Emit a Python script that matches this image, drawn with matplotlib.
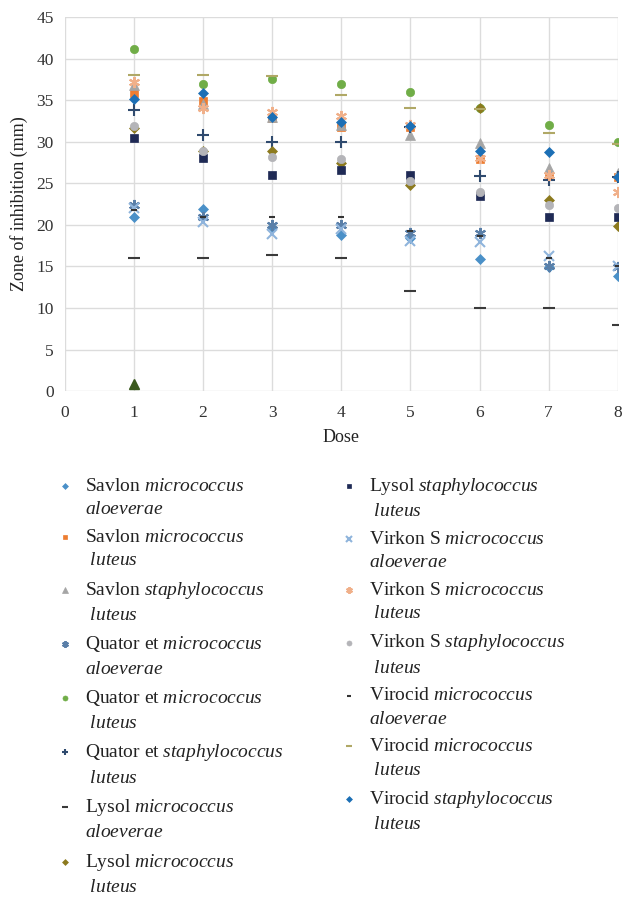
import matplotlib
matplotlib.use('Agg')
import matplotlib.pyplot as plt
from matplotlib.legend_handler import HandlerLine2D

plt.rcParams['font.family'] = ['Liberation Serif', 'DejaVu Serif']
plt.rcParams['mathtext.fontset'] = 'custom'
plt.rcParams['mathtext.it'] = 'Liberation Serif:italic'
plt.rcParams['mathtext.rm'] = 'Liberation Serif'

doses = [1, 2, 3, 4, 5, 6, 7, 8]

savlon_ma = [21.0, 21.9, 19.8, 18.8, 18.4, 15.9, 14.9, 13.8]
savlon_ml = [35.9, 34.9, 32.9, 31.8, 31.8, 27.9, 25.9, 25.8]
savlon_sl = [36.8, 34.5, 33.0, 32.0, 30.8, 29.9, 26.9, 26.2]
quator_ma = [22.4, 21.0, 20.0, 20.0, 19.0, 19.0, 15.0, 14.9]
quator_ml = [41.1, 37.0, 37.5, 37.0, 36.0, 34.0, 32.0, 30.0]
quator_sl = [33.8, 30.8, 30.0, 30.0, 31.8, 25.9, 25.4, 25.8]
lysol_ma = [16.0, 16.0, 16.4, 16.0, 12.0, 10.0, 10.0, 8.0]
lysol_ml = [31.6, 28.9, 28.9, 27.4, 24.8, 34.0, 23.0, 19.9]
lysol_sl = [30.5, 28.0, 26.0, 26.6, 26.0, 23.5, 21.0, 21.0]
virkon_ma = [22.0, 20.3, 18.9, 19.5, 18.0, 17.9, 16.3, 15.0]
virkon_ml = [37.2, 34.0, 33.6, 33.1, 32.0, 28.0, 26.0, 24.0]
virkon_sl = [31.9, 28.9, 28.2, 27.9, 25.3, 24.0, 22.4, 22.0]
virocid_ma = [21.8, 21.0, 21.0, 21.0, 19.2, 18.6, 16.0, 15.0]
virocid_ml = [38.0, 38.0, 37.9, 35.6, 34.0, 33.9, 31.0, 29.7]
virocid_sl = [35.2, 35.9, 33.0, 32.4, 31.9, 28.9, 28.8, 25.8]
extra_dose = [1]
extra_val = [0.8]


def lab(name, g1, g2):
    return f'{name} $\\mathit{{{g1}}}$\n' + (' ' if g2 == 'luteus' else '') + f'$\\mathit{{{g2}}}$'


# legend marker sits next to the first line of a two-line label
class FirstLineHandler(HandlerLine2D):
    def create_artists(self, *args, **kwargs):
        arts = super().create_artists(*args, **kwargs)
        for a in arts:
            a.set_ydata([y + 8.3 for y in a.get_ydata()])
        return arts


star = (6, 2, 0)
series = [
    (savlon_ma, lab('Savlon', 'micrococcus', 'aloeverae'), 'D', '#4a90c8', 5),
    (savlon_ml, lab('Savlon', 'micrococcus', 'luteus'), 's', '#ed7d31', 6),
    (savlon_sl, lab('Savlon', 'staphylococcus', 'luteus'), '^', '#a5a5a5', 7),
    (quator_ma, lab('Quator et', 'micrococcus', 'aloeverae'), star, '#5a7fa8', 8),
    (quator_ml, lab('Quator et', 'micrococcus', 'luteus'), 'o', '#70ad47', 6),
    (quator_sl, lab('Quator et', 'staphylococcus', 'luteus'), '+', '#2f4a6e', 8),
    (lysol_ma, lab('Lysol', 'micrococcus', 'aloeverae'), '_', '#3a3a3a', 8),
    (lysol_ml, lab('Lysol', 'micrococcus', 'luteus'), 'D', '#8c7a1e', 5),
    (lysol_sl, lab('Lysol', 'staphylococcus', 'luteus'), 's', '#1f2a55', 6),
    (virkon_ma, lab('Virkon S', 'micrococcus', 'aloeverae'), 'x', '#8fb4dc', 7),
    (virkon_ml, lab('Virkon S', 'micrococcus', 'luteus'), star, '#f0b08a', 8),
    (virkon_sl, lab('Virkon S', 'staphylococcus', 'luteus'), 'o', '#b4b4b8', 6),
    (virocid_ma, lab('Virocid', 'micrococcus', 'aloeverae'), '_', '#333333', 4),
    (virocid_ml, lab('Virocid', 'micrococcus', 'luteus'), '_', '#b0a866', 8),
    (virocid_sl, lab('Virocid', 'staphylococcus', 'luteus'), 'D', '#1c6fb5', 5),
]

fig = plt.figure(figsize=(6.24, 8.99), dpi=100)
ax = fig.add_axes([0.104, 0.565, 0.886, 0.416])

ax.plot(extra_dose, extra_val, linestyle='none', marker='^', color='#3b5a1e',
        markersize=7, label='_nolegend_', zorder=3)
for vals, label, mk, col, ms in series:
    ax.plot(doses, vals, linestyle='none', marker=mk, color=col, markersize=ms,
            markeredgewidth=1.5 if mk in ('_', '+', 'x', star) else 0.5, label=label, zorder=3)

ax.set_xlim(0, 8)
ax.set_ylim(0, 45)
ax.set_xticks(range(0, 9))
ax.set_yticks(range(0, 46, 5))
ax.grid(True, color='#dcdcdc', linewidth=1)
ax.set_axisbelow(True)
for s in ax.spines.values():
    s.set_visible(False)
ax.tick_params(axis='x', length=0, labelsize=12.5, colors='#333333', pad=10)
ax.tick_params(axis='y', length=0, labelsize=12.5, colors='#333333', pad=8)
ax.set_xlabel('Dose', fontsize=13, color='#222222', labelpad=6)
ax.set_ylabel('Zone of inhibition (mm)', fontsize=13, color='#222222', labelpad=6)

handles, labels = ax.get_legend_handles_labels()
leg = fig.legend(handles, labels, loc='upper left', bbox_to_anchor=(0.062, 0.490), ncol=2,
                 frameon=False, fontsize=14, markerscale=0.6, handlelength=0.9,
                 handletextpad=0.6, columnspacing=2.9, labelspacing=0.53,
                 labelcolor='#222222',
                 handler_map={h: FirstLineHandler() for h in handles})
for t in leg.get_texts():
    t.set_linespacing(1.5)

fig.savefig('out.png', dpi=100)
